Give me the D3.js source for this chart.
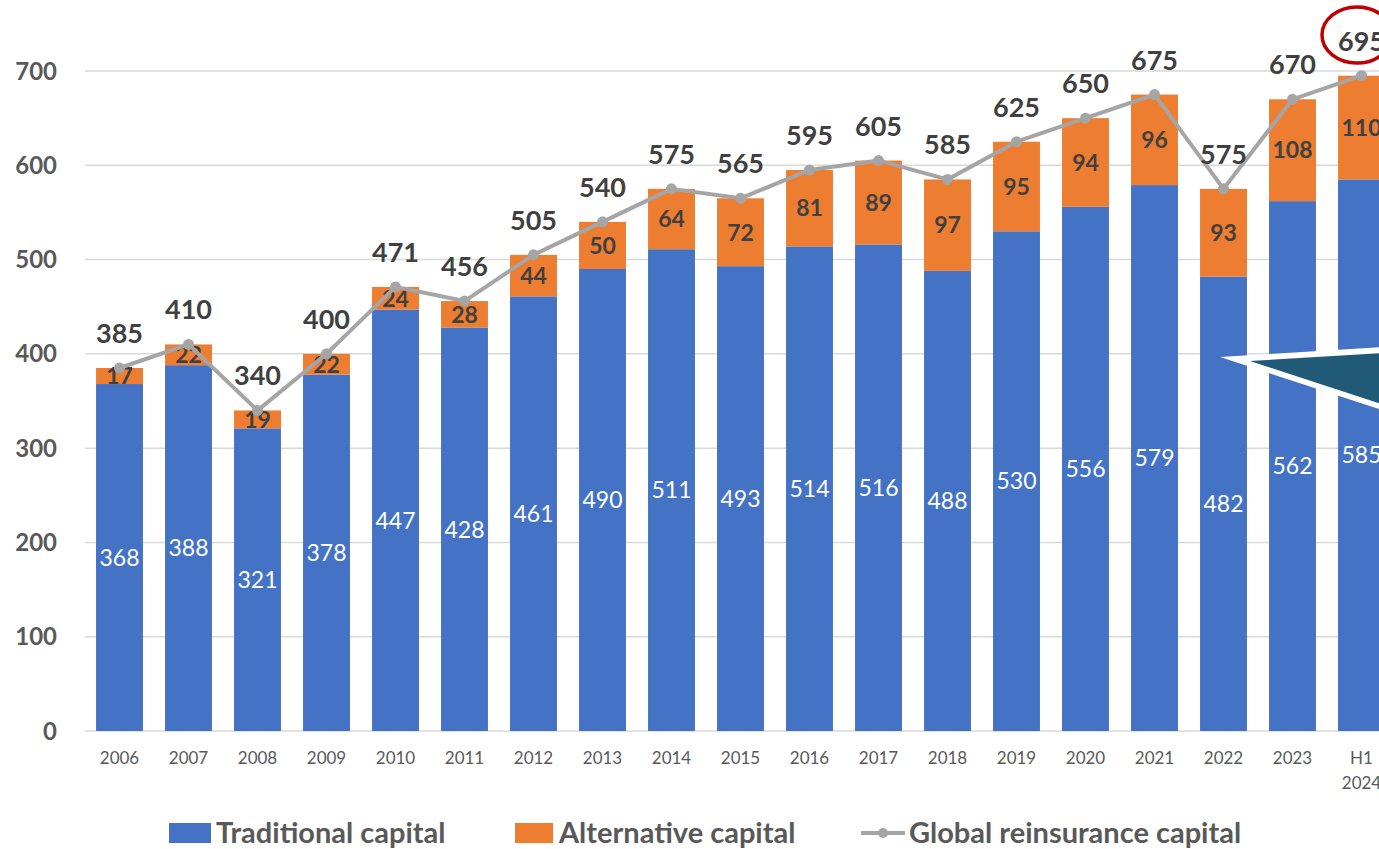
<!DOCTYPE html>
<html><head><meta charset="utf-8">
<script src="https://cdn.jsdelivr.net/npm/d3@7"></script>
<style>html,body{margin:0;padding:0;background:#fff;overflow:hidden}svg{display:block;font-family:Lato,"Open Sans",sans-serif}</style>
</head><body><svg id="c" width="1379" height="849"></svg>
<script>
const categories = ["2006","2007","2008","2009","2010","2011","2012","2013","2014","2015","2016","2017","2018","2019","2020","2021","2022","2023","H1 2024"];
const traditional = [368,388,321,378,447,428,461,490,511,493,514,516,488,530,556,579,482,562,585];
const alternative = [17,22,19,22,24,28,44,50,64,72,81,89,97,95,94,96,93,108,110];
const globalTotal = [385,410,340,400,471,456,505,540,575,565,595,605,585,625,650,675,575,670,695];
const yTicks = [0,100,200,300,400,500,600,700];
const legendLabels = ["Traditional capital","Alternative capital","Global reinsurance capital"];

const svg = d3.select("#c");
const x = d3.scaleBand().domain(categories).range([85,1396]).paddingInner(0.32).paddingOuter(0.16);
const y = d3.scaleLinear().domain([0,700]).range([731,71]);
const BLUE="#4472c4", ORANGE="#ed7d31", GRAY="#a5a5a5", TXT="#595959", DARK="#404040";
const cx = d => x(d)+x.bandwidth()/2;

// gridlines
svg.append("g").selectAll("line").data(yTicks).join("line")
  .attr("x1",85).attr("x2",1379).attr("y1",d=>y(d)).attr("y2",d=>y(d))
  .attr("stroke","#d9d9d9").attr("stroke-width",1.5);
// y labels
svg.append("g").selectAll("text").data(yTicks).join("text")
  .attr("x",57).attr("y",d=>y(d)).attr("dy","0.36em").attr("text-anchor","end")
  .attr("font-size",24).attr("font-weight","bold").attr("fill",TXT).text(d=>d);

// bars
const bars = svg.append("g");
bars.selectAll("rect.t").data(categories).join("rect").attr("class","t")
  .attr("x",d=>x(d)).attr("width",x.bandwidth())
  .attr("y",(d,i)=>y(traditional[i])).attr("height",(d,i)=>y(0)-y(traditional[i])).attr("fill",BLUE);
bars.selectAll("rect.a").data(categories).join("rect").attr("class","a")
  .attr("x",d=>x(d)).attr("width",x.bandwidth())
  .attr("y",(d,i)=>y(traditional[i]+alternative[i])).attr("height",(d,i)=>y(traditional[i])-y(traditional[i]+alternative[i])).attr("fill",ORANGE);

// x labels
const xl = svg.append("g").selectAll("text").data(categories).join("text")
  .attr("x",cx).attr("y",764).attr("text-anchor","middle")
  .attr("font-size",17).attr("fill",TXT);
xl.each(function(d){
  const parts=d.split(" ");
  const t=d3.select(this);
  parts.forEach((p,k)=>t.append("tspan").attr("x",cx(d)).attr("dy",k?25:0).text(p));
});

// blue labels
svg.append("g").selectAll("text").data(categories).join("text")
  .attr("x",cx).attr("y",(d,i)=>y(traditional[i]/2)).attr("dy","0.36em")
  .attr("text-anchor","middle").attr("font-size",23).attr("fill","#fff").text((d,i)=>traditional[i]);
// orange labels
svg.append("g").selectAll("text").data(categories).join("text")
  .attr("x",cx).attr("y",(d,i)=>y(traditional[i]+alternative[i]/2)).attr("dy","0.36em")
  .attr("text-anchor","middle").attr("font-size",23).attr("font-weight","bold").attr("fill",DARK).text((d,i)=>alternative[i]);

// line
const line = d3.line().x((d,i)=>cx(categories[i])).y(d=>y(d));
svg.append("path").datum(globalTotal).attr("d",line).attr("fill","none").attr("stroke",GRAY).attr("stroke-width",4).attr("stroke-linejoin","round");
svg.append("g").selectAll("circle").data(globalTotal).join("circle")
  .attr("cx",(d,i)=>cx(categories[i])).attr("cy",d=>y(d)).attr("r",5.5).attr("fill",GRAY);
// totals
svg.append("g").selectAll("text").data(globalTotal).join("text")
  .attr("x",(d,i)=>cx(categories[i])).attr("y",d=>y(d)-25)
  .attr("text-anchor","middle").attr("font-size",27).attr("font-weight","bold").attr("fill",DARK).text(d=>d);

// annotation shapes
svg.append("polygon").attr("points","1220,357 1400,346 1400,416").attr("fill","#fff");
svg.append("polygon").attr("points","1250,361 1400,352 1400,410").attr("fill","#215a76");
svg.append("ellipse").attr("cx",1357).attr("cy",35).attr("rx",35).attr("ry",28)
  .attr("fill","none").attr("stroke","#c00000").attr("stroke-width",3.5);

// legend
const lg = svg.append("g").attr("font-size",29).attr("font-weight","bold").attr("fill",TXT);
lg.append("rect").attr("x",169).attr("y",823).attr("width",42).attr("height",20).attr("fill",BLUE);
lg.append("text").attr("x",216).attr("y",843).text(legendLabels[0]);
lg.append("rect").attr("x",515).attr("y",823).attr("width",38).attr("height",20).attr("fill",ORANGE);
lg.append("text").attr("x",559).attr("y",843).text(legendLabels[1]);
lg.append("line").attr("x1",861).attr("x2",905).attr("y1",833).attr("y2",833).attr("stroke",GRAY).attr("stroke-width",4);
lg.append("circle").attr("cx",883).attr("cy",833).attr("r",5).attr("fill",GRAY);
lg.append("text").attr("x",909).attr("y",843).text(legendLabels[2]);
</script></body></html>
